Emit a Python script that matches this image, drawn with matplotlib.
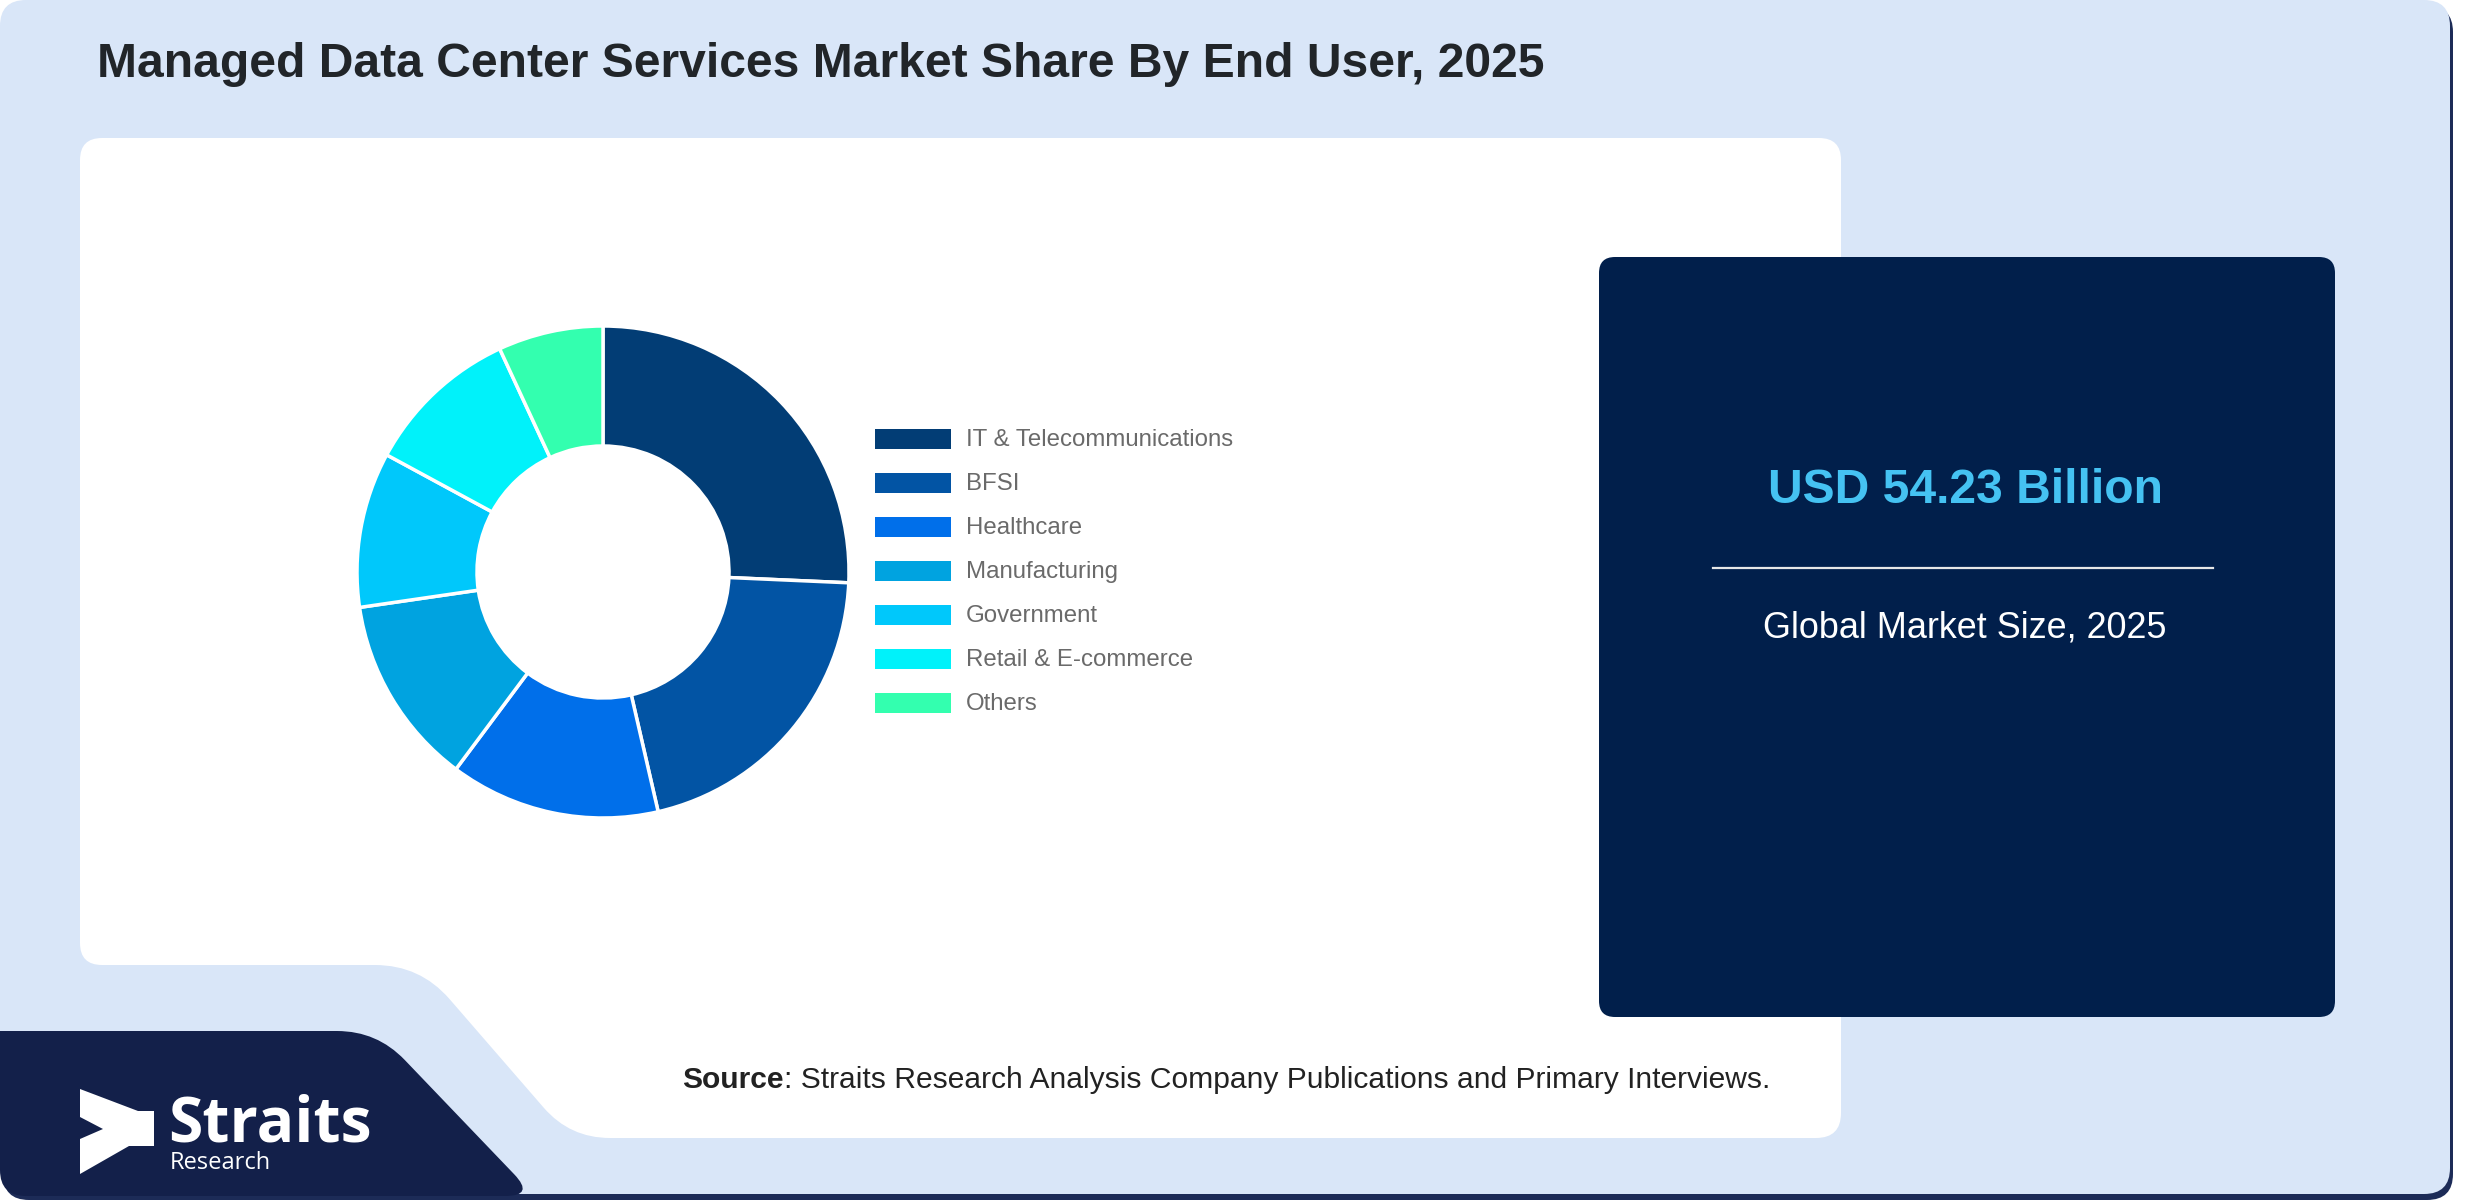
import numpy as np
import matplotlib
matplotlib.use("Agg")
import matplotlib.pyplot as plt
from matplotlib.path import Path
from matplotlib.patches import PathPatch, FancyBboxPatch, Rectangle, Polygon

# data
end_users = ["IT & Telecommunications", "BFSI", "Healthcare", "Manufacturing",
             "Government", "Retail & E-commerce", "Others"]
shares = [25.7, 20.7, 13.8, 12.5, 10.2, 10.2, 6.9]
slice_colors = ["#023d75", "#0254a4", "#006fea", "#00a3e0", "#00c8fb", "#00f2fa", "#33ffaf"]

title = "Managed Data Center Services Market Share By End User, 2025"
market_value = "USD 54.23 Billion"
market_label = "Global Market Size, 2025"
source_bold = "Source"
source_rest = ": Straits Research Analysis Company Publications and Primary Interviews."

W, H = 2480, 1200
LIGHT = "#d9e6f8"
NAVY = "#13204a"
BOX = "#011f4b"
plt.rcParams["font.family"] = ["Liberation Sans", "DejaVu Sans"]


def rounded_poly(points, radii):
    # polygon with quadratic-bezier rounded corners
    pts = np.asarray(points, float)
    n = len(pts)
    verts, codes = [], []
    for i in range(n):
        p, prev, nxt = pts[i], pts[i - 1], pts[(i + 1) % n]
        r = radii[i] if np.ndim(radii) else radii
        d1 = (prev - p) / np.linalg.norm(prev - p)
        d2 = (nxt - p) / np.linalg.norm(nxt - p)
        a, b = p + d1 * r, p + d2 * r
        verts += [a, p, b]
        codes += [Path.LINETO, Path.CURVE3, Path.CURVE3]
    codes[0] = Path.MOVETO
    verts.append(verts[0])
    codes.append(Path.CLOSEPOLY)
    return Path(verts, codes)


fig = plt.figure(figsize=(W / 100, H / 100), dpi=100)
fig.patch.set_facecolor("white")
ax = fig.add_axes([0, 0, 1, 1], zorder=0)
ax.set_xlim(0, W)
ax.set_ylim(H, 0)
ax.axis("off")

# card + shadow
ax.add_patch(FancyBboxPatch((3, 6), 2450, 1194, boxstyle="round,pad=0,rounding_size=26",
                            facecolor="#1c2b57", edgecolor="none"))
ax.add_patch(FancyBboxPatch((0, 0), 2450, 1194, boxstyle="round,pad=0,rounding_size=26",
                            facecolor=LIGHT, edgecolor="none"))

# white panel
panel = [(80, 138), (1841, 138), (1841, 1138), (570, 1138), (420, 965), (80, 965)]
ax.add_patch(PathPatch(rounded_poly(panel, [22, 22, 25, 40, 45, 22]),
                       facecolor="white", edgecolor="none"))

# navy logo block
navy = [(0, 1031), (377, 1031), (535, 1196), (0, 1196)]
ax.add_patch(PathPatch(rounded_poly(navy, [0.1, 40, 30, 26]),
                       facecolor=NAVY, edgecolor="none"))

# logo
arrow = [(80, 1089), (138, 1111), (154, 1111), (154, 1146), (129, 1146),
         (80, 1174), (80, 1139), (103, 1129), (80, 1117)]
ax.add_patch(Polygon(arrow, closed=True, facecolor="white", edgecolor="none"))
ax.text(168, 1142, "Straits", fontsize=45, fontweight="bold", color="white",
        family="Open Sans", va="baseline", ha="left")
ax.text(170, 1169, "Research", fontsize=17, color="white",
        family="Open Sans", va="baseline", ha="left")

# title
ax.text(97, 77, title, fontsize=34.6, fontweight="bold", color="#212529",
        va="baseline", ha="left")

# market size box
ax.add_patch(FancyBboxPatch((1599, 257), 736, 760, boxstyle="round,pad=0,rounding_size=16",
                            facecolor=BOX, edgecolor="none"))
ax.text(1965, 503, market_value, fontsize=34.6, fontweight="bold", color="#45c2f2",
        ha="center", va="baseline")
ax.plot([1713, 2213], [568, 568], color="#e6e6e6", lw=1.6)
ax.text(1965, 638, market_label, fontsize=25.9, color="white", ha="center", va="baseline")

# legend
for i, (name, col) in enumerate(zip(end_users, slice_colors)):
    cy = 439 + 44 * i
    ax.add_patch(Rectangle((875, cy - 10), 76, 20, facecolor=col, edgecolor="none"))
    ax.text(966, cy + 7, name, fontsize=17.3, color="#6a6a6a", va="baseline", ha="left")

# source line
t1 = ax.text(682, 1088, source_bold, fontsize=21.6, fontweight="bold", color="#222222",
             va="baseline", ha="left")
fig.canvas.draw()
bb = t1.get_window_extent(renderer=fig.canvas.get_renderer())
x_end = ax.transData.inverted().transform((bb.x1, bb.y0))[0]
ax.text(x_end, 1088, source_rest, fontsize=21.6, color="#222222", va="baseline", ha="left")

# donut
cx, cy, half = 603, 572, 300
pax = fig.add_axes([(cx - half) / W, (H - cy - half) / H, 2 * half / W, 2 * half / H], zorder=1)
pax.pie(shares, colors=slice_colors, startangle=90, counterclock=False, radius=246,
        wedgeprops=dict(width=120, edgecolor="white", linewidth=2.5))
pax.set_xlim(-half, half)
pax.set_ylim(-half, half)
pax.set_aspect("equal")
pax.axis("off")

fig.savefig("out.png", dpi=100, facecolor="white")
